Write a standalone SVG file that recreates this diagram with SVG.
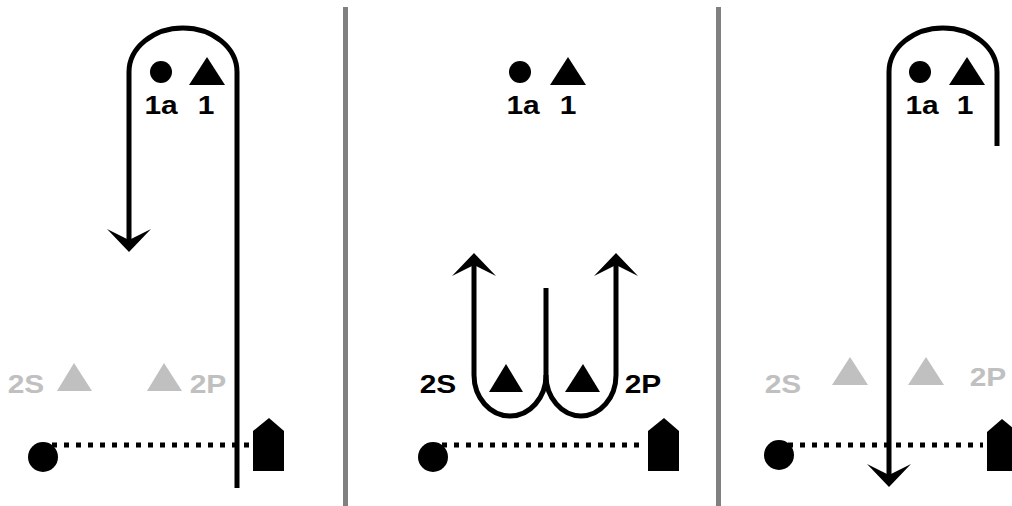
<svg xmlns="http://www.w3.org/2000/svg" width="1012" height="506" viewBox="0 0 1012 506">
<style>
.lbl{font-family:"Liberation Sans",Arial,sans-serif;font-weight:bold;font-size:26px;text-anchor:middle}
.blk{fill:#000}
.gry{fill:#c0c0c0}
.route{fill:none;stroke:#000;stroke-width:5}
.dot{fill:none;stroke:#000;stroke-width:5;stroke-dasharray:5 7}
.div{stroke:#808080;stroke-width:5}
</style>
<defs>
<marker id="ah" markerUnits="userSpaceOnUse" markerWidth="40" markerHeight="50" refX="0" refY="0" viewBox="-15 -25 40 50" orient="auto" overflow="visible">
<path d="M12,0 L-11,-22 L0,0 L-11,22 Z" fill="#000"/>
</marker>
</defs>
<g id="dividers">
<line class="div" x1="345.5" y1="7" x2="345.5" y2="506"/>
<line class="div" x1="718.5" y1="7" x2="718.5" y2="506"/>
</g>
<g id="panel1">
<g id="p1-1a"><circle class="blk" cx="161" cy="72" r="11"/><text class="lbl" transform="translate(161,114) scale(1.15,1)">1a</text></g>
<g id="p1-1"><polygon class="blk" points="207,57 225,85 189,85"/><text class="lbl" transform="translate(206,114) scale(1.15,1)">1</text></g>
<g id="p1-2S"><polygon class="gry" points="74,363 92,391 57,391"/><text class="lbl gry" transform="translate(26,393) scale(1.15,1)">2S</text></g>
<g id="p1-2P"><polygon class="gry" points="164,363 182,391 147,391"/><text class="lbl gry" transform="translate(208,393) scale(1.15,1)">2P</text></g>
<g id="p1-mark"><circle class="blk" cx="43" cy="457" r="15"/></g>
<g id="p1-boat"><polygon class="blk" points="253,431 269,418 284,431 284,471 253,471"/></g>
</g>
<g id="panel2">
<g id="p2-1a"><circle class="blk" cx="520" cy="72" r="11"/><text class="lbl" transform="translate(523,114) scale(1.15,1)">1a</text></g>
<g id="p2-1"><polygon class="blk" points="568,57 586,85 550,85"/><text class="lbl" transform="translate(568,114) scale(1.15,1)">1</text></g>
<g id="p2-2S"><polygon class="blk" points="506,364 523,392 489,392"/><text class="lbl" transform="translate(438,393) scale(1.15,1)">2S</text></g>
<g id="p2-2P"><polygon class="blk" points="583,364 600,392 565,392"/><text class="lbl" transform="translate(643,393) scale(1.15,1)">2P</text></g>
<g id="p2-mark"><circle class="blk" cx="433" cy="457" r="15"/></g>
<g id="p2-boat"><polygon class="blk" points="648,431 664,418 679,431 679,471 648,471"/></g>
</g>
<g id="panel3">
<g id="p3-1a"><circle class="blk" cx="920" cy="72" r="11"/><text class="lbl" transform="translate(922,114) scale(1.15,1)">1a</text></g>
<g id="p3-1"><polygon class="blk" points="967,57 985,85 949,85"/><text class="lbl" transform="translate(965,114) scale(1.15,1)">1</text></g>
<g id="p3-2S"><polygon class="gry" points="850,357 868,385 832,385"/><text class="lbl gry" transform="translate(783,393) scale(1.15,1)">2S</text></g>
<g id="p3-2P"><polygon class="gry" points="926,357 944,385 908,385"/><text class="lbl gry" transform="translate(988,386) scale(1.15,1)">2P</text></g>
<g id="p3-mark"><circle class="blk" cx="779" cy="455" r="15"/></g>
<g id="p3-boat"><polygon class="blk" points="987,432 1002,419 1018,432 1018,471 987,471"/></g>
</g>
<g id="connectors">
<line class="dot" x1="52" y1="445" x2="250" y2="445"/>
<line class="dot" x1="442" y1="445" x2="646" y2="445"/>
<line class="dot" x1="788" y1="445" x2="983" y2="445"/>
<path class="route" d="M237,488 L237,72 A54,44 0 0 0 129,72 L129,240" marker-end="url(#ah)"/>
<path class="route" d="M546,288 L546,375 A36,41 0 0 1 474,375 L474,265" marker-end="url(#ah)"/>
<path class="route" d="M546,375 A35,41 0 0 0 616,375 L616,265" marker-end="url(#ah)"/>
<path class="route" d="M997,146 L997,72 A54,44 0 0 0 889,72 L889,475" marker-end="url(#ah)"/>
</g>
</svg>
